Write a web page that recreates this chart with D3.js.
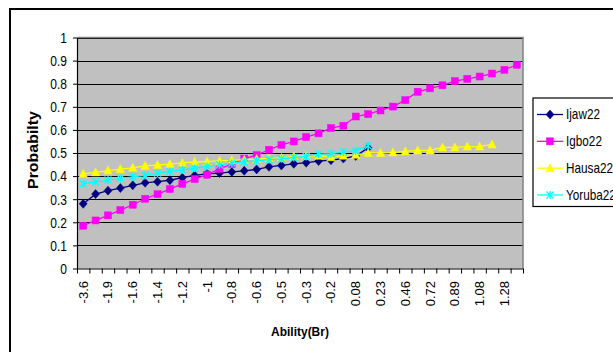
<!DOCTYPE html>
<html>
<head>
<meta charset="utf-8">
<script src="https://cdn.jsdelivr.net/npm/d3@7"></script>
<style>
  html, body { margin: 0; padding: 0; background: #fff; overflow: hidden; }
  svg { display: block; font-family: Arial, "Liberation Sans", sans-serif; }
</style>
</head>
<body>
<svg id="chart" width="613" height="352"></svg>
<script>
// Ability categories (every other one carries a label on the axis)
const categoryCount = 36;
const abilityLabels = ["-3.6", "-1.9", "-1.6", "-1.4", "-1.2", "-1", "-0.8", "-0.6", "-0.5",
  "-0.3", "-0.2", "0.08", "0.23", "0.46", "0.72", "0.89", "1.08", "1.28"];

// Probability per ability category for each group
const ijaw22 = [0.280, 0.322, 0.337, 0.348, 0.360, 0.371, 0.376, 0.382, 0.393, 0.403,
  0.410, 0.413, 0.418, 0.423, 0.429, 0.440, 0.446, 0.453, 0.458, 0.465,
  0.469, 0.476, 0.487, 0.522];
const igbo22 = [0.185, 0.208, 0.230, 0.253, 0.276, 0.302, 0.322, 0.344, 0.366, 0.387,
  0.406, 0.431, 0.452, 0.476, 0.491, 0.514, 0.535, 0.550, 0.569, 0.585,
  0.608, 0.618, 0.658, 0.668, 0.684, 0.701, 0.729, 0.765, 0.780, 0.793,
  0.811, 0.821, 0.831, 0.844, 0.860, 0.882];
const hausa22 = [0.410, 0.416, 0.424, 0.430, 0.436, 0.444, 0.448, 0.452, 0.457, 0.461,
  0.463, 0.466, 0.468, 0.471, 0.474, 0.476, 0.479, 0.485, 0.487, 0.488,
  0.482, 0.488, 0.492, 0.500, 0.500, 0.502, 0.507, 0.511, 0.511, 0.524,
  0.524, 0.528, 0.528, 0.537];
const yoruba22 = [0.367, 0.375, 0.383, 0.390, 0.397, 0.403, 0.413, 0.420, 0.427, 0.434,
  0.442, 0.449, 0.456, 0.461, 0.466, 0.471, 0.475, 0.481, 0.485, 0.495,
  0.497, 0.504, 0.510, 0.531];

const yTicks = [0, 0.1, 0.2, 0.3, 0.4, 0.5, 0.6, 0.7, 0.8, 0.9, 1];
const yTickLabels = ["0", "0.1", "0.2", "0.3", "0.4", "0.5", "0.6", "0.7", "0.8", "0.9", "1"];

const seriesNames = ["Ijaw22", "Igbo22", "Hausa22", "Yoruba22"];
const seriesColors = ["#000080", "#FF00FF", "#FFFF00", "#00FFFF"];
const seriesShapes = ["diamond", "square", "triangle", "star"];
const seriesValues = [ijaw22, igbo22, hausa22, yoruba22];

const svg = d3.select("#chart");
const plot = { left: 77, right: 523, top: 37.5, bottom: 268.5 };

// Chart frame (extends past the window on the right and bottom)
svg.append("rect")
  .attr("x", 10).attr("y", 9).attr("width", 640).attr("height", 400)
  .attr("fill", "#fff").attr("stroke", "#000").attr("stroke-width", 2);

const x = d3.scaleBand().domain(d3.range(categoryCount)).range([plot.left, plot.right]);
const xEdge = d3.scaleLinear().domain([0, categoryCount]).range([plot.left, plot.right]);
const y = d3.scaleLinear().domain([0, 1]).range([plot.bottom, plot.top]);
const cx = i => x(i) + x.bandwidth() / 2;

// Plot area
svg.append("rect")
  .attr("x", plot.left).attr("y", plot.top)
  .attr("width", plot.right - plot.left).attr("height", plot.bottom - plot.top)
  .attr("fill", "#C0C0C0");

// Horizontal gridlines
svg.append("g").selectAll("line")
  .data(yTicks.slice(1))
  .join("line")
  .attr("x1", plot.left).attr("x2", plot.right)
  .attr("y1", d => Math.round(y(d)) + 0.5).attr("y2", d => Math.round(y(d)) + 0.5)
  .attr("stroke", "#000").attr("stroke-width", 1.2);

// Plot-area border (top and right)
svg.append("path")
  .attr("d", `M${plot.left},${plot.top}H${plot.right}V${plot.bottom}`)
  .attr("fill", "none").attr("stroke", "#808080").attr("stroke-width", 1.5);

// Y axis
const yAxis = svg.append("g")
  .attr("transform", `translate(${plot.left},0)`)
  .call(d3.axisLeft(y).tickValues(yTicks).tickSize(4).tickSizeOuter(0)
    .tickFormat((d, i) => yTickLabels[i]));
yAxis.select(".domain").attr("stroke", "#000").attr("stroke-width", 1.2);
yAxis.selectAll(".tick line").attr("stroke", "#000");
yAxis.selectAll(".tick text")
  .attr("x", null).attr("dy", null)
  .attr("transform", "translate(-10,0) scale(0.86,1)")
  .attr("dominant-baseline", "central")
  .attr("font-size", 14).attr("fill", "#000")
  .attr("font-family", "Arial, 'Liberation Sans', sans-serif");

// X axis: tick marks on category boundaries
const xTicks = svg.append("g")
  .attr("transform", `translate(0,${plot.bottom})`)
  .call(d3.axisBottom(xEdge).tickValues(d3.range(categoryCount + 1)).tickSize(5)
    .tickSizeOuter(0).tickFormat(""));
xTicks.select(".domain").attr("stroke", "#000").attr("stroke-width", 1.2);
xTicks.selectAll(".tick line").attr("stroke", "#000");

// X axis labels on every other category, rotated
const labelled = d3.range(0, categoryCount, 2);
const xLabels = svg.append("g")
  .attr("transform", `translate(0,${plot.bottom})`)
  .call(d3.axisBottom(x).tickValues(labelled).tickSize(0)
    .tickFormat(d => abilityLabels[d / 2]));
xLabels.select(".domain").remove();
xLabels.selectAll(".tick text")
  .attr("x", null).attr("y", null).attr("dy", null)
  .attr("transform", "translate(0,12.5) rotate(-90)")
  .attr("text-anchor", "end")
  .attr("dominant-baseline", "central")
  .attr("font-size", 13).attr("fill", "#000")
  .attr("font-family", "Arial, 'Liberation Sans', sans-serif");

// Marker symbols
function drawMarker(g, shape, color, px, py) {
  if (shape === "diamond") {
    g.append("path").attr("d", `M${px},${py - 4.5}L${px + 4},${py}L${px},${py + 4.5}L${px - 4},${py}Z`)
      .attr("fill", color).attr("stroke", color).attr("stroke-width", 0.5);
  } else if (shape === "square") {
    g.append("rect").attr("x", px - 3.5).attr("y", py - 3.5).attr("width", 7).attr("height", 7)
      .attr("fill", color).attr("stroke", color).attr("stroke-width", 0.5);
  } else if (shape === "triangle") {
    g.append("path").attr("d", `M${px},${py - 4.5}L${px + 4.2},${py + 3.5}L${px - 4.2},${py + 3.5}Z`)
      .attr("fill", color).attr("stroke", color).attr("stroke-width", 0.5);
  } else {
    g.append("path")
      .attr("d", `M${px - 3.5},${py - 3.5}L${px + 3.5},${py + 3.5}M${px - 3.5},${py + 3.5}L${px + 3.5},${py - 3.5}M${px},${py - 4}V${py + 4}`)
      .attr("fill", "none").attr("stroke", color).attr("stroke-width", 1.3);
  }
}

const line = d3.line().x((d, i) => cx(i)).y(d => y(d));

seriesValues.forEach((vals, s) => {
  const g = svg.append("g");
  g.append("path").datum(vals).attr("d", line)
    .attr("fill", "none").attr("stroke", seriesColors[s]).attr("stroke-width", 1.3);
  vals.forEach((v, i) => drawMarker(g, seriesShapes[s], seriesColors[s], cx(i), y(v)));
});

// Axis titles
svg.append("text")
  .attr("transform", "translate(300,336) scale(0.92,1)")
  .attr("text-anchor", "middle")
  .attr("font-size", 13).attr("font-weight", "bold")
  .text("Ability(Br)");

svg.append("text")
  .attr("transform", "translate(38,150) rotate(-90)")
  .attr("text-anchor", "middle")
  .attr("font-size", 14).attr("font-weight", "bold")
  .attr("textLength", 78).attr("lengthAdjust", "spacingAndGlyphs")
  .text("Probabilty");

// Legend
const legend = svg.append("g");
legend.append("rect")
  .attr("x", 533).attr("y", 98).attr("width", 120).attr("height", 108.5)
  .attr("fill", "#fff").attr("stroke", "#000").attr("stroke-width", 1.2);
const legendY = d3.scalePoint().domain(seriesNames).range([114.5, 195]);
seriesNames.forEach((name, s) => {
  const ly = legendY(name);
  legend.append("line").attr("x1", 537).attr("x2", 563).attr("y1", ly).attr("y2", ly)
    .attr("stroke", seriesColors[s]).attr("stroke-width", 1.3);
  drawMarker(legend, seriesShapes[s], seriesColors[s], 550, ly);
  legend.append("text")
    .attr("transform", `translate(566,${ly}) scale(0.84,1)`)
    .attr("dominant-baseline", "central")
    .attr("font-size", 14)
    .text(name);
});
</script>
</body>
</html>
